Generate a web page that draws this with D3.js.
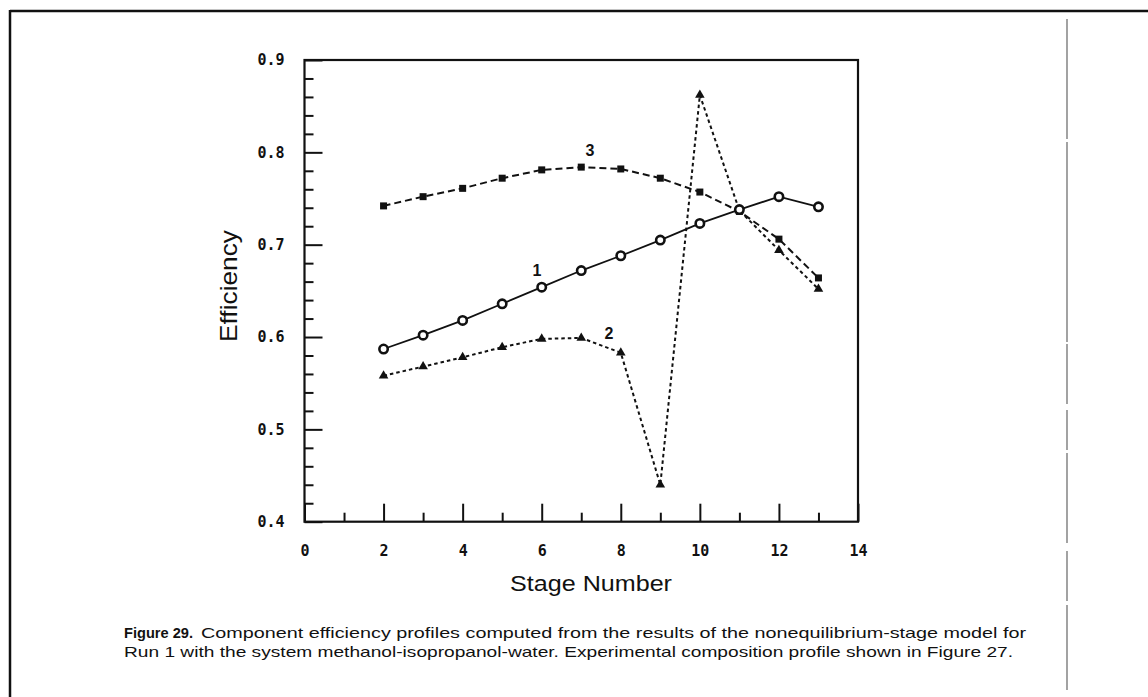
<!DOCTYPE html>
<html>
<head>
<meta charset="utf-8">
<script src="https://cdn.jsdelivr.net/npm/d3@7"></script>
<style>
  html, body { margin: 0; padding: 0; background: #fff; }
  svg { display: block; }
</style>
</head>
<body>
<svg id="chart" width="1148" height="697"></svg>
<script>
// ---- data ----
const stages = [2, 3, 4, 5, 6, 7, 8, 9, 10, 11, 12, 13];
const series1 = [0.587, 0.602, 0.618, 0.636, 0.654, 0.672, 0.688, 0.705, 0.723, 0.738, 0.752, 0.741];
const series2 = [0.558, 0.568, 0.578, 0.589, 0.598, 0.599, 0.583, 0.440, 0.862, 0.737, 0.694, 0.652];
const series3 = [0.742, 0.752, 0.761, 0.772, 0.781, 0.784, 0.782, 0.772, 0.757, 0.736, 0.706, 0.664];
const xMajorTicks = [0, 2, 4, 6, 8, 10, 12, 14];
const xMinorTicks = [1, 3, 5, 7, 9, 11, 13];
const yMajorTicks = [0.4, 0.5, 0.6, 0.7, 0.8, 0.9];
const yMinorTicks = [0.42,0.44,0.46,0.48,0.52,0.54,0.56,0.58,0.62,0.64,0.66,0.68,0.72,0.74,0.76,0.78,0.82,0.84,0.86,0.88];
const seriesLabels = [
  { text: "1", x: 5.88, y: 0.6715 },
  { text: "2", x: 7.70, y: 0.604 },
  { text: "3", x: 7.22, y: 0.8025 }
];
const xTitle = "Stage Number";
const yTitle = "Efficiency";
const captionBold = "Figure 29.";
const captionLine1 = "Component efficiency profiles computed from the results of the nonequilibrium-stage model for";
const captionLine2 = "Run 1 with the system methanol-isopropanol-water. Experimental composition profile shown in Figure 27.";

// ---- layout ----
const svg = d3.select("#chart");
const L = 304.5, R = 858, T = 60, B = 521.7;
const x = d3.scaleLinear().domain([0, 14]).range([L, R]);
const y = d3.scaleLinear().domain([0.4, 0.9]).range([B, T]);

// outer page frame
svg.append("line").attr("x1", 10).attr("x2", 1148).attr("y1", 11).attr("y2", 11)
  .attr("stroke", "#111").attr("stroke-width", 2.5);
svg.append("line").attr("x1", 10).attr("x2", 10).attr("y1", 10).attr("y2", 697)
  .attr("stroke", "#111").attr("stroke-width", 2.5);
svg.append("line").attr("x1", 1067).attr("x2", 1067).attr("y1", 19).attr("y2", 690)
  .attr("stroke", "#666").attr("stroke-width", 1.2)
  .attr("stroke-dasharray", "120,3,200,2,60,6,40,3,90,8,50,4,100");

const tickFont = "'DejaVu Sans Mono', 'Liberation Mono', monospace";

// x axis minor & major (inward ticks)
const gxMinor = svg.append("g").attr("transform", `translate(0,${B})`)
  .call(d3.axisBottom(x).tickValues(xMinorTicks).tickSize(-9).tickFormat(""));
const gx = svg.append("g").attr("transform", `translate(0,${B})`)
  .call(d3.axisBottom(x).tickValues(xMajorTicks).tickSize(-18).tickPadding(24).tickFormat(d3.format("d")));
// y axis minor & major
const gyMinor = svg.append("g").attr("transform", `translate(${L},0)`)
  .call(d3.axisLeft(y).tickValues(yMinorTicks).tickSize(-9).tickFormat(""));
const gy = svg.append("g").attr("transform", `translate(${L},0)`)
  .call(d3.axisLeft(y).tickValues(yMajorTicks).tickSize(-18).tickPadding(20).tickFormat(d3.format(".1f")));

[gxMinor, gx, gyMinor, gy].forEach(g => {
  g.select(".domain").remove();
  g.selectAll(".tick line").attr("stroke", "#111").attr("stroke-width", 2);
});
gx.selectAll(".tick text").attr("font-family", tickFont).attr("font-weight", "bold")
  .attr("font-size", 15).attr("fill", "#111");
gy.selectAll(".tick text").attr("font-family", tickFont).attr("font-weight", "bold")
  .attr("font-size", 15).attr("fill", "#111");

// plot frame
svg.append("rect").attr("x", L).attr("y", T).attr("width", R - L).attr("height", B - T)
  .attr("fill", "none").attr("stroke", "#111").attr("stroke-width", 2.2);

// lines
const line = d3.line().x(d => x(d[0])).y(d => y(d[1]));
const d1 = stages.map((s, i) => [s, series1[i]]);
const d2 = stages.map((s, i) => [s, series2[i]]);
const d3s = stages.map((s, i) => [s, series3[i]]);

svg.append("path").datum(d3s).attr("d", line).attr("fill", "none")
  .attr("stroke", "#111").attr("stroke-width", 2).attr("stroke-dasharray", "7,4");
svg.append("path").datum(d2).attr("d", line).attr("fill", "none")
  .attr("stroke", "#111").attr("stroke-width", 2).attr("stroke-dasharray", "3.5,3");
svg.append("path").datum(d1).attr("d", line).attr("fill", "none")
  .attr("stroke", "#111").attr("stroke-width", 1.8);

// markers
svg.append("g").selectAll("rect").data(d3s).join("rect")
  .attr("x", d => x(d[0]) - 3.5).attr("y", d => y(d[1]) - 3.5)
  .attr("width", 7).attr("height", 7).attr("fill", "#111");
const tri = d3.symbol().type(d3.symbolTriangle).size(40);
svg.append("g").selectAll("path").data(d2).join("path")
  .attr("transform", d => `translate(${x(d[0])},${y(d[1])})`)
  .attr("d", tri).attr("fill", "#111");
svg.append("g").selectAll("circle").data(d1).join("circle")
  .attr("cx", d => x(d[0])).attr("cy", d => y(d[1])).attr("r", 4.2)
  .attr("fill", "#fff").attr("stroke", "#111").attr("stroke-width", 2.6);

// series labels
svg.append("g").selectAll("text").data(seriesLabels).join("text")
  .attr("x", d => x(d.x)).attr("y", d => y(d.y))
  .attr("text-anchor", "middle").attr("dominant-baseline", "central")
  .attr("font-family", "'Liberation Sans', Arial, sans-serif").attr("font-weight", "bold")
  .attr("font-size", 16).attr("fill", "#111").text(d => d.text);

// axis titles
svg.append("text").attr("x", 510).attr("y", 591)
  .attr("font-family", "'Liberation Sans', Arial, sans-serif").attr("font-size", 22)
  .attr("fill", "#111").attr("textLength", 162).attr("lengthAdjust", "spacingAndGlyphs")
  .text(xTitle);
svg.append("text").attr("transform", "translate(237,342) rotate(-90)")
  .attr("font-family", "'Liberation Sans', Arial, sans-serif").attr("font-size", 24)
  .attr("fill", "#111").attr("textLength", 112).attr("lengthAdjust", "spacingAndGlyphs")
  .text(yTitle);

// caption
const capFont = "'Liberation Sans', Arial, sans-serif";
svg.append("text").attr("x", 124).attr("y", 638)
  .attr("font-family", capFont).attr("font-size", 14.5).attr("font-weight", "bold")
  .attr("fill", "#111").attr("textLength", 69).attr("lengthAdjust", "spacingAndGlyphs").text(captionBold);
svg.append("text").attr("x", 201).attr("y", 638)
  .attr("font-family", capFont).attr("font-size", 14.5)
  .attr("fill", "#111").attr("textLength", 825).attr("lengthAdjust", "spacingAndGlyphs").text(captionLine1);
svg.append("text").attr("x", 124).attr("y", 657)
  .attr("font-family", capFont).attr("font-size", 14.5)
  .attr("fill", "#111").attr("textLength", 889).attr("lengthAdjust", "spacingAndGlyphs").text(captionLine2);
</script>
</body>
</html>
